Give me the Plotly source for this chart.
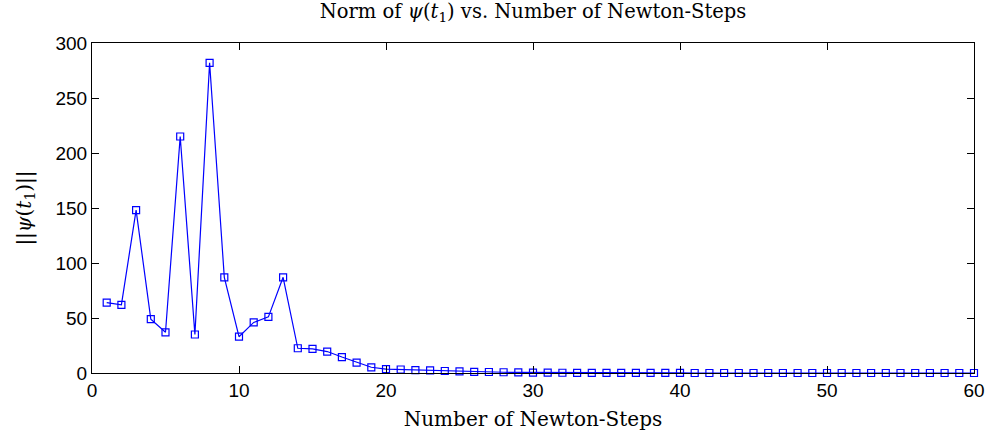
import plotly.graph_objects as go

steps = list(range(1, 61))
norms = [64, 62, 148, 49, 37, 215, 35, 282, 87, 33,
         46, 51, 87, 22.5, 22, 19.5, 14.5, 9.5, 5.2, 3.6,
         3.2, 2.7, 2.3, 1.8, 1.4, 1.1, 0.9, 0.7, 0.5, 0.4,
         0.3, 0.25, 0.2, 0.15, 0.1, 0.08, 0.06, 0.05, 0.04, 0.03,
         0.02, 0.02, 0.01, 0.01, 0.01, 0.01, 0.01, 0.01, 0.01, 0.01,
         0.01, 0.01, 0.01, 0.01, 0.01, 0.01, 0.01, 0.01, 0.01, 0.01]

x_ticks = [0, 10, 20, 30, 40, 50, 60]
y_ticks = [0, 50, 100, 150, 200, 250, 300]

serif = "DejaVu Serif, Liberation Serif, serif"
sans = "Liberation Sans, Arial, sans-serif"

fig = go.Figure()
fig.add_trace(go.Scatter(
    x=steps, y=norms, mode="lines+markers",
    line=dict(color="#0000ff", width=1.2),
    marker=dict(symbol="square-open", size=7, color="#0000ff", line=dict(width=1.2)),
    cliponaxis=False,
))

axis_common = dict(
    showline=True, linecolor="black", linewidth=1.2, mirror="ticks",
    ticks="inside", ticklen=7, tickcolor="black", tickwidth=1,
    showgrid=False, zeroline=False, automargin=False,
    tickfont=dict(family=sans, size=19, color="black"),
)

fig.update_layout(
    width=986, height=437,
    margin=dict(l=92, r=12, t=43, b=64),
    paper_bgcolor="white", plot_bgcolor="white",
    showlegend=False,
    title=dict(
        text="Norm of <i>ψ</i>(<i>t</i><sub>1</sub>) vs. Number of Newton-Steps",
        x=0.5, xanchor="center", xref="paper", y=0.99, yanchor="top",
        font=dict(family=serif, size=19.5, color="black"),
    ),
    xaxis=dict(range=[0, 60], tickvals=x_ticks,
               title=dict(text="Number of Newton-Steps", standoff=12,
                          font=dict(family=serif, size=20, color="black")),
               **axis_common),
    yaxis=dict(range=[0, 300], tickvals=y_ticks,
               title=dict(text="||<i>ψ</i>(<i>t</i><sub>1</sub>)||", standoff=18,
                          font=dict(family=serif, size=20, color="black")),
               **axis_common),
)

fig.write_html("out.html")
